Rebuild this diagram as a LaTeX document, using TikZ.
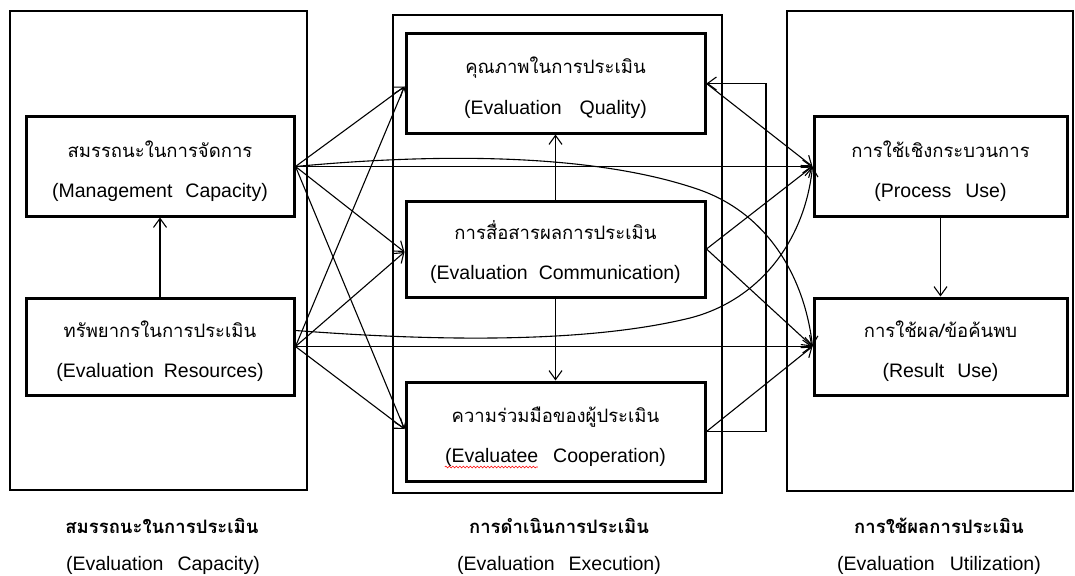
\documentclass[tikz,border=0pt]{standalone}
\usepackage{fontspec}
\setmainfont{Liberation Sans}
\newfontfamily\thaifont[Script=Thai]{Loma}
\usetikzlibrary{arrows.meta,calc,decorations.pathmorphing}
\begin{document}
\begin{tikzpicture}[x=1pt,y=-1pt,
  outer/.style={draw, line width=1.2pt, inner sep=0pt},
  box/.style={draw, line width=3pt, inner sep=0pt, fill=white},
  th/.style={font=\thaifont\fontsize{18.5}{22}\selectfont, anchor=base, inner sep=0pt},
  thb/.style={font=\thaifont\bfseries\fontsize{18.5}{22}\selectfont, anchor=base, inner sep=0pt},
  en/.style={font=\fontsize{19.5}{22}\selectfont, anchor=base, inner sep=0pt},
  arr/.style={-{Straight Barb[length=9pt,width=13pt]}, line width=1.1pt},
  squig/.style={draw=red, line width=0.6pt, decorate, decoration={snake, amplitude=0.9pt, segment length=3.5pt}}
]
\useasboundingbox (0,0) rectangle (1075,575);
% group frames
\node[outer, minimum width=297pt, minimum height=479pt] (Lgrp) at (158.5,250.5) {};
\node[outer, minimum width=329pt, minimum height=478pt] (Mgrp) at (557.5,254) {};
\node[outer, minimum width=286pt, minimum height=480pt] (Rgrp) at (930,251) {};
% inner boxes
\node[box, minimum width=268pt, minimum height=99pt] (MC) at (160,166.5) {};
\node[box, minimum width=268pt, minimum height=97pt] (ER) at (160,346.5) {};
\node[box, minimum width=299pt, minimum height=99pt] (EQ) at (555.5,83.5) {};
\node[box, minimum width=299pt, minimum height=96pt] (EC) at (555.5,249) {};
\node[box, minimum width=299pt, minimum height=99pt] (EE) at (555.5,431.5) {};
\node[box, minimum width=253pt, minimum height=99pt] (PU) at (940.5,166.5) {};
\node[box, minimum width=253pt, minimum height=97pt] (RU) at (940.5,346.5) {};
% connectors
\draw[arr] (ER.north) -- (MC.south);
\draw[arr] (EC.north) -- (EQ.south);
\draw[arr] (EC.south) -- (EE.north);
\draw[arr] (PU.south) -- (RU.north);
\draw[arr] (MC.east) -- (PU.west);
\draw[arr] (ER.east) -- (RU.west);
\draw[arr] (MC.east) -- ([yshift=-3pt]EQ.west);
\draw[arr] (MC.east) -- ([yshift=-3pt]EC.west);
\draw[arr] (MC.east) -- ([yshift=2.5pt]EE.west);
\draw[arr] (ER.east) -- ([yshift=-3pt]EQ.west);
\draw[arr] (ER.east) -- ([yshift=-3pt]EC.west);
\draw[arr] (ER.east) -- ([yshift=2.5pt]EE.west);
\draw[arr] (EQ.east) -- (PU.west);
\draw[arr] (EC.east) -- (PU.west);
\draw[arr] (EC.east) -- (RU.west);
\draw[arr] (EE.east) -- (RU.west);
\draw[arr] (MC.east) .. controls (450,152) and (600,155) .. (700,190) .. controls (770,215) and (805,280) .. (RU.west);
\draw[arr] ([yshift=16pt]ER.east) .. controls (420,340) and (580,345) .. (690,318) .. controls (760,300) and (805,240) .. (PU.west);
\coordinate (lx) at (766,0);
\draw[arr] (EE.east) -- (EE.east -| lx) -- (EQ.east -| lx) -- (EQ.east);
% texts
\node[th] (MCt) at ([yshift=9.5pt]MC.center) {สมรรถนะในการจัดการ};
\node[en] (MCe) at ([yshift=-30.5pt]MC.center) {(Management\hspace{13pt}Capacity)};
\node[th] (ERt) at ([yshift=9.5pt]ER.center) {ทรัพยากรในการประเมิน};
\node[en] (ERe) at ([yshift=-30.5pt]ER.center) {(Evaluation\hspace{10pt}Resources)};
\node[th] (EQt) at ([yshift=9.5pt]EQ.center) {คุณภาพในการประเมิน};
\node[en] (EQe) at ([yshift=-30.5pt]EQ.center) {(Evaluation\hspace{18pt}Quality)};
\node[th] (ECt) at ([yshift=9.5pt]EC.center) {การสื่อสารผลการประเมิน};
\node[en] (ECe) at ([yshift=-30pt]EC.center) {(Evaluation\hspace{11pt}Communication)};
\node[th] (EEt) at ([yshift=9.5pt]EE.center) {ความร่วมมือของผู้ประเมิน};
\node[en] (EEe) at ([yshift=-30.5pt]EE.center) {(Evaluatee\hspace{15pt}Cooperation)};
\draw[squig] ([yshift=-5pt]EEe.base west) -- ++(93,0);
\node[th] (PUt) at ([yshift=9.5pt]PU.center) {การใช้เชิงกระบวนการ};
\node[en] (PUe) at ([yshift=-30.5pt]PU.center) {(Process\hspace{14pt}Use)};
\node[th] (RUt) at ([yshift=9.5pt]RU.center) {การใช้ผล/ข้อค้นพบ};
\node[en] (RUe) at ([yshift=-30.5pt]RU.center) {(Result\hspace{13pt}Use)};
% group captions
\node[thb] (Lt) at (162,533) {สมรรถนะในการประเมิน};
\node[en] (Le) at (163,570) {(Evaluation\hspace{14pt}Capacity)};
\node[thb] (Mt) at (559,533) {การดำเนินการประเมิน};
\node[en] (Me) at (559,570) {(Evaluation\hspace{14pt}Execution)};
\node[thb] (Rt) at (939,533) {การใช้ผลการประเมิน};
\node[en] (Re) at (939,570) {(Evaluation\hspace{15pt}Utilization)};
\end{tikzpicture}
\end{document}
